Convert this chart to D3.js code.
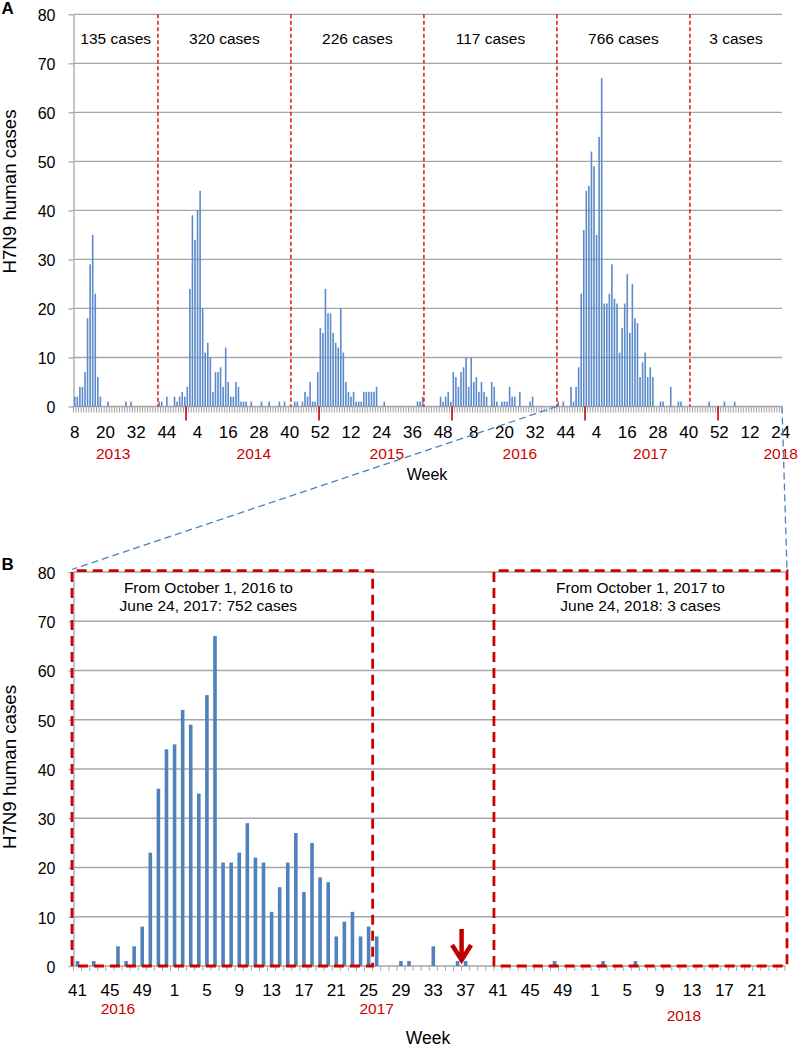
<!DOCTYPE html>
<html><head><meta charset="utf-8">
<script src="https://cdn.jsdelivr.net/npm/d3@7"></script>
<style>
body{margin:0;background:#fff}
svg{display:block}
text{font-family:"Liberation Sans",Arial,sans-serif}
</style>
</head><body>
<svg id="c" width="800" height="1048"></svg>
<script>
// ---------------- DATA ----------------
// Weekly H7N9 human cases (2013 starts at week 8, 2018 ends at week 24)
const cases2013 = [2,2,4,4,7,18,29,35,23,6, 2,0,0,1,0,0,0,0,0,0, 1,0,1,0,0,0,0,0,0,0, 0,0,0,1,1,0,2,0,0,2, 1,2,3,2,4];
const cases2014 = [24,39,34,40,44,20,11,13,10,3, 7,7,8,4,12,5,2,2,5,4, 1,1,1,0,1,0,0,0,1,0, 0,1,0,0,0,1,0,1,0,0, 0,1,1,0,1,3,2,5,1,1, 7,16];
const cases2015 = [15,24,19,19,15,13,12,20,11,5, 3,2,3,1,1,1,3,3,3,3, 3,4,0,0,1,0,0,0,0,0, 0,0,0,0,0,0,0,1,1,2, 0,0,0,0,0,0,2,1,2,3, 1,7];
const cases2016 = [6,4,7,8,10,4,10,5,6,3, 5,3,2,0,5,4,1,0,1,1, 1,4,2,2,0,3,0,0,0,1, 2,0,0,0,0,0,0,0,0,0, 1,0,1,0,0,4,1,4,8,23, 36,44];
const cases2017 = [45,52,49,35,55,67,21,21,23,29, 22,21,11,16,21,27,15,25,18,17, 6,9,11,6,8,6,0,0,1,1, 0,0,4,0,0,1,1,0,0,0, 0,0,0,0,0,0,0,1,0,0, 0,0];
const cases2018 = [0,1,0,0,0,1,0,0,0,0, 0,0,0,0,0,0,0,0,0,0, 0,0,0,0];
const yearStarts = [[2013,8],[2014,1],[2015,1],[2016,1],[2017,1],[2018,1]];

const seasonTotals = [135,320,226,117,766,3];
const seasonStartsA = ["2013-41","2014-41","2015-41","2016-41","2017-41"];
const yTicks = [0,10,20,30,40,50,60,70,80];
const weekTicksA = ["2013-8","2013-20","2013-32","2013-44","2014-4","2014-16","2014-28","2014-40","2014-52","2015-12","2015-24","2015-36","2015-48","2016-8","2016-20","2016-32","2016-44","2017-4","2017-16","2017-28","2017-40","2017-52","2018-12","2018-24"];
const weekTicksB = ["2016-41","2016-45","2016-49","2017-1","2017-5","2017-9","2017-13","2017-17","2017-21","2017-25","2017-29","2017-33","2017-37","2017-41","2017-45","2017-49","2018-1","2018-5","2018-9","2018-13","2018-17","2018-21"];
const yearTickWeeksA = ["2013-52","2014-52","2015-52","2016-52","2017-52"];
const yearLabelsA = [["2013","2013-23"],["2014","2014-26"],["2015","2015-26"],["2016","2016-26"],["2017","2017-25"],["2018","2018-24"]];
const yearLabelsB = [["2016","2016-46"],["2017","2017-26"],["2018","2018-12"]];
const boxFromB = ["2016-41","2017-41"];
const boxToB = ["2017-26", null];
const boxTextB = [["From October 1, 2016 to","June 24, 2017: 752 cases"],["From October 1, 2017 to","June 24, 2018: 3 cases"]];
const arrowWeekB = "2017-37";
const panelBStart = "2016-41";

// ---------------- BUILD SERIES ----------------
const allCases = [cases2013,cases2014,cases2015,cases2016,cases2017,cases2018];
const seriesA = [];
yearStarts.forEach(([yr,start],i)=>{
  allCases[i].forEach((v,j)=>seriesA.push({key:`${yr}-${start+j}`, year:yr, week:start+j, value:v}));
});
const seriesB = seriesA.slice(seriesA.findIndex(d=>d.key===panelBStart));

const svg = d3.select("#c");
const GRID = "#a6a6a6", RED="#cc0000", BLUE="#4f81bd";
const FONT = '"Liberation Sans",Arial,sans-serif';

function drawPanel(cfg){
  const {x, y, series, g} = cfg;
  const x0 = x.range()[0], x1 = x.range()[1], bw = x.bandwidth();
  // gridlines
  g.append("g").selectAll("line").data(yTicks.filter(t=>t>0)).join("line")
    .attr("x1",x0).attr("x2",x1).attr("y1",d=>y(d)).attr("y2",d=>y(d))
    .attr("stroke",GRID).attr("stroke-width",1.3);
  // y axis
  const ya = g.append("g").attr("transform",`translate(${x0},0)`)
    .call(d3.axisLeft(y).tickValues(yTicks).tickSize(5).tickSizeOuter(0).tickPadding(13));
  ya.select(".domain").attr("stroke",GRID).attr("stroke-width",1.3);
  ya.selectAll(".tick line").attr("stroke",GRID).attr("stroke-width",1.3);
  ya.selectAll(".tick text").attr("font-size",16).attr("font-family",FONT).attr("fill","#000").attr("dy","0.4em");
  // minor ticks at every band boundary
  const bounds = d3.range(series.length+1).map(i=>x0+i*bw);
  g.append("g").selectAll("line").data(bounds).join("line")
    .attr("x1",d=>d).attr("x2",d=>d).attr("y1",y(0)).attr("y2",y(0)+cfg.minorLen)
    .attr("stroke",cfg.minorColor).attr("stroke-width",1);
  // x axis line
  g.append("line").attr("x1",x0).attr("x2",x1).attr("y1",y(0)).attr("y2",y(0))
    .attr("stroke",GRID).attr("stroke-width",1.3);
  // bars
  g.append("g").selectAll("rect").data(series.filter(d=>d.value>0)).join("rect")
    .attr("x",d=>x(d.key)+bw/2-cfg.barW/2).attr("width",cfg.barW)
    .attr("y",d=>y(d.value)).attr("height",d=>y(0)-y(d.value))
    .attr("fill",cfg.barColor);
  // week tick labels
  const xa = g.append("g").attr("transform",`translate(0,${y(0)})`)
    .call(d3.axisBottom(x).tickValues(cfg.weekTicks).tickSize(0).tickFormat(k=>k.split("-")[1]));
  xa.select(".domain").remove();
  xa.selectAll(".tick text").attr("font-size",cfg.tickFont).attr("font-family",FONT).attr("fill","#000")
    .attr("dy",null).attr("y",cfg.tickY);
  // year labels
  g.append("g").selectAll("text").data(cfg.yearLabels).join("text")
    .attr("x",d=>x(d[1])+bw/2).attr("y",(d,i)=>cfg.yearY(i))
    .attr("text-anchor","middle").attr("font-size",15.5).attr("fill",RED).text(d=>d[0]);
  // y title
  g.append("text").attr("transform",`translate(${cfg.titleX},${cfg.titleY}) rotate(-90)`)
    .attr("text-anchor","middle").attr("font-size",18.7).attr("fill","#000").text("H7N9 human cases");
  // Week title
  g.append("text").attr("x",cfg.weekX).attr("y",cfg.weekY).attr("text-anchor","middle")
    .attr("font-size",cfg.weekFont).attr("fill","#000").text("Week");
}

// ---------------- PANEL A ----------------
const xA = d3.scaleBand().domain(seriesA.map(d=>d.key)).range([73.5,782]);
const yA = d3.scaleLinear().domain([0,80]).range([406.5,14.3]);
const gA = svg.append("g");
drawPanel({x:xA,y:yA,series:seriesA,g:gA,minorLen:6,minorColor:"#a0a0a0",barW:1.6,barColor:"#5b8bcb",
  weekTicks:weekTicksA,tickFont:17,tickY:31.2,yearLabels:yearLabelsA,yearY:()=>459.3,
  titleX:15.5,titleY:191.5,weekX:427,weekY:480,weekFont:16});
// year ticks (red)
gA.append("g").selectAll("line").data(yearTickWeeksA).join("line")
  .attr("x1",d=>xA(d)).attr("x2",d=>xA(d)).attr("y1",yA(0)).attr("y2",yA(0)+14)
  .attr("stroke",RED).attr("stroke-width",1.6);
// season separators
const sepX = seasonStartsA.map(k=>xA(k));
gA.append("g").selectAll("line").data(sepX).join("line")
  .attr("x1",d=>d).attr("x2",d=>d).attr("y1",yA(80)).attr("y2",yA(0))
  .attr("stroke","#dd2222").attr("stroke-width",1.6).attr("stroke-dasharray","4,2.5");
const edges = [xA.range()[0], ...sepX, xA.range()[1]];
gA.append("g").selectAll("text").data(seasonTotals).join("text")
  .attr("x",(d,i)=>(edges[i]+edges[i+1])/2).attr("y",44.3).attr("text-anchor","middle")
  .attr("font-size",15.5).attr("fill","#000").text(d=>`${d} cases`);
gA.append("text").attr("x",1.5).attr("y",14).attr("font-size",17).attr("font-weight","bold").text("A");

// ---------------- PANEL B ----------------
const xB = d3.scaleBand().domain(seriesB.map(d=>d.key)).range([73.5,785]);
const yB = d3.scaleLinear().domain([0,80]).range([966,572]);
const gB = svg.append("g");
drawPanel({x:xB,y:yB,series:seriesB,g:gB,minorLen:5,minorColor:"#a8a8a8",barW:3.6,barColor:BLUE,
  weekTicks:weekTicksB,tickFont:17,tickY:30,yearLabels:yearLabelsB,yearY:i=>i===2?1021:1014,
  titleX:16,titleY:767,weekX:428,weekY:1043.5,weekFont:17.5});
gB.append("text").attr("x",1.5).attr("y",570).attr("font-size",17).attr("font-weight","bold").text("B");

// dashed red boxes
boxFromB.forEach((f,i)=>{
  const bx0 = xB(f) - (i===0?1.5:0);
  const bx1 = boxToB[i] ? xB(boxToB[i]) : xB.range()[1]+2;
  const by0 = yB(80)-1.3, by1 = yB(0);
  gB.append("path").attr("d",`M${bx0},${by1}V${by0}H${bx1}V${by1}H${bx0}`)
    .attr("fill","none").attr("stroke",RED).attr("stroke-width",2.8).attr("stroke-dasharray","10,6");
  const cx = (bx0+bx1)/2 + (i===0?-14:0);
  boxTextB[i].forEach((t,j)=>{
    gB.append("text").attr("x",cx).attr("y",592.5+j*18.5).attr("text-anchor","middle")
      .attr("font-size",15.5).attr("fill","#000").text(t);
  });
});

// red arrow
const ax = xB(arrowWeekB);
gB.append("path").attr("d",`M${ax},929V959M${ax-9.5},945L${ax},960L${ax+9.5},945`)
  .attr("fill","none").attr("stroke","#c00000").attr("stroke-width",4.5).attr("stroke-linejoin","miter");

// blue connector lines from panel A to panel B
const conn = [
  [xA(panelBStart), yA(0), xB.range()[0]-1.5, yB(80)-2.5],
  [xA.range()[1], yA(0), xB.range()[1]+2, yB(80)-2.5]
];
svg.append("g").selectAll("line").data(conn).join("line")
  .attr("x1",d=>d[0]).attr("y1",d=>d[1]).attr("x2",d=>d[2]).attr("y2",d=>d[3])
  .attr("stroke",BLUE).attr("stroke-width",1.3).attr("stroke-dasharray","7,4");
</script>
</body></html>
